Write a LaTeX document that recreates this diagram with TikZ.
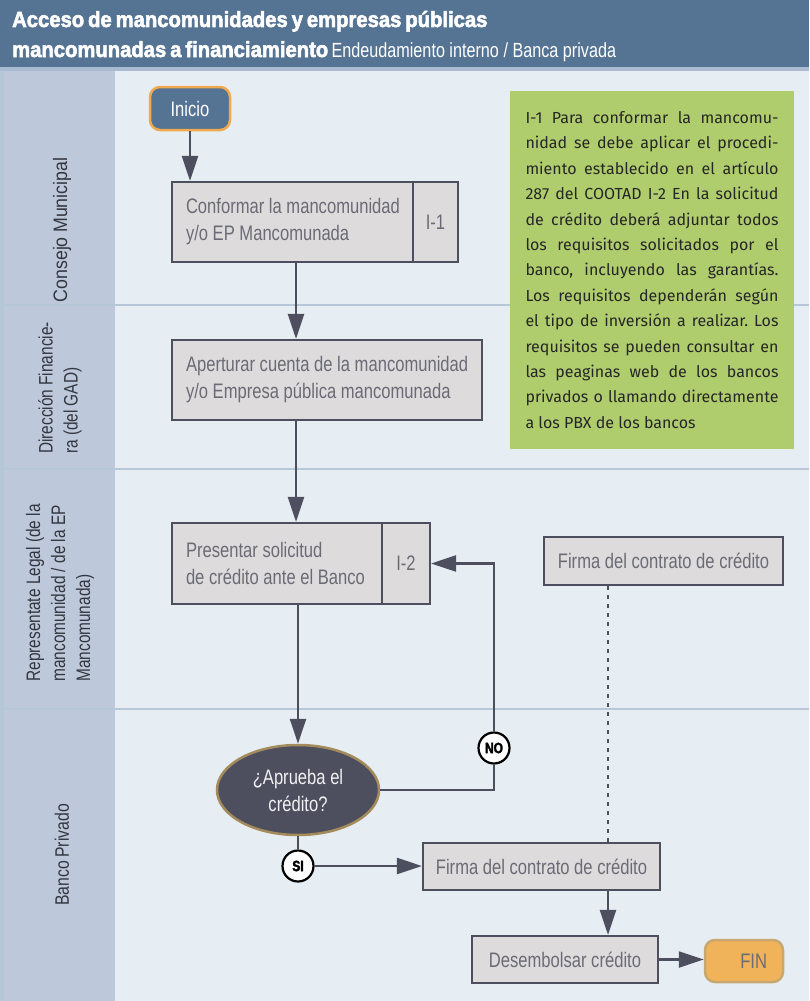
\documentclass[tikz,border=0pt]{standalone}
\usepackage{fontspec}
\usetikzlibrary{arrows.meta,calc,shapes.geometric}
\newfontfamily\cond[FakeStretch=0.79]{Liberation Sans}
\newfontfamily\condwide[FakeStretch=0.91,WordSpace=0.9]{Liberation Sans}
\newfontfamily\condmid[FakeStretch=0.81,WordSpace=0.8]{Liberation Sans}
\newfontfamily\titlef[FakeStretch=0.92,FakeBold=2.5,WordSpace=0.7]{Liberation Sans Bold}
\newfontfamily\tagf[FakeStretch=0.8,FakeBold=2]{Liberation Sans Bold}
\newfontfamily\notef{Fira Sans}
% natural interword space of the current font (overrides the fixed one of align=left)
\newcommand\natspace{\spaceskip=\fontdimen2\font\relax}

\definecolor{hdr}{HTML}{557393}
\definecolor{hdrline}{HTML}{A9BBD0}
\definecolor{lanecol}{HTML}{BDC9DA}
\definecolor{mainbg}{HTML}{E6EEF3}
\definecolor{sep}{HTML}{B5C7D8}
\definecolor{boxfill}{HTML}{DEDBDC}
\definecolor{ink}{HTML}{4D4F5F}
\definecolor{boxtext}{HTML}{6A6B75}
\definecolor{lanetext}{HTML}{333640}
\definecolor{notegreen}{HTML}{B0CD6E}
\definecolor{finorange}{HTML}{F1B35A}
\definecolor{inicioedge}{HTML}{F0A94E}
\definecolor{ellipseedge}{HTML}{A38B5B}
\definecolor{finedge}{HTML}{C8A870}

\tikzset{
  proc/.style={draw=ink, line width=2.2pt, fill=boxfill, text=boxtext,
    font=\cond\fontsize{21}{27}\selectfont, inner sep=0pt},
  lanelab/.style={rotate=90, align=left, text=lanetext,
    font=\cond\fontsize{19.5}{25}\selectfont, inner sep=0pt},
  flow/.style={draw=ink, line width=2.4pt, -{Triangle[width=16pt,length=25pt]}},
  link/.style={draw=ink, line width=2.4pt},
  tag/.style={circle, draw=black, fill=white, line width=2.2pt, minimum size=31pt,
    inner sep=0pt, font=\tagf\fontsize{15}{15}\selectfont},
}

\begin{document}
\begin{tikzpicture}[x=1pt,y=-1pt]
  \useasboundingbox (0,0) rectangle (809,1001);

  % background, title band and lane column
  \fill[mainbg] (0,0) rectangle (809,1001);
  \fill[hdr] (0,0) rectangle (809,67);
  \fill[hdrline] (0,67) rectangle (809,71);
  \fill[sep] (0,71) rectangle (4,1001);
  \fill[lanecol] (4,71) rectangle (115,1001);
  \foreach \yy in {305,469,709}
    \draw[sep, line width=2.5pt] (4,\yy) -- (809,\yy);

  % title
  \node[anchor=base west, inner sep=0pt, text=white,
        font=\titlef\fontsize{22}{22}\selectfont] (t1) at (12,27)
        {Acceso de mancomunidades y empresas públicas};
  \node[anchor=base west, inner sep=0pt, text=white] (t2) at (12,57)
        {{\titlef\fontsize{22}{22}\selectfont mancomunadas a financiamiento}
         {\cond\fontsize{20.5}{20.5}\selectfont Endeudamiento interno / Banca privada}};

  % lane names
  \node[lanelab, font=\condwide\fontsize{19.5}{25}\selectfont] (l1) at (62,230) {Consejo Municipal};
  \node[lanelab] (l2) at (60,388) {\natspace Dirección Financie-\\ra (del GAD)};
  \node[lanelab] (l3) at (60,593) {\natspace Representate Legal (de la\\mancomunidad / de la EP\\Mancomunada)};
  \node[lanelab, font=\condmid\fontsize{19.5}{25}\selectfont] (l4) at (62,855) {Banco Privado};

  % note
  \node[fill=notegreen, minimum width=284pt, minimum height=358pt, inner sep=0pt,
        text width=253pt, align=justify, text=black!85,
        font=\notef\fontsize{16}{25.4}\selectfont] (note) at (652,270)
  {\frenchspacing\hyphenpenalty=10000\exhyphenpenalty=10000\tolerance=10000%
   I-1 Para conformar la mancomu-\linebreak nidad se debe aplicar el procedi-\linebreak
   miento establecido en el artículo\linebreak 287 del COOTAD I-2 En la solicitud\linebreak
   de crédito deberá adjuntar todos\linebreak los requisitos solicitados por el\linebreak
   banco, incluyendo las garantías.\linebreak Los requisitos dependerán según\linebreak
   el tipo de inversión a realizar. Los\linebreak requisitos se pueden consultar en\linebreak
   las peaginas web de los bancos\linebreak privados o llamando directamente\linebreak
   a los PBX de los bancos};

  % flow nodes
  \node[draw=inicioedge, fill=hdr, line width=2.5pt, rounded corners=10pt,
        minimum width=80pt, minimum height=43pt, text=white,
        font=\cond\fontsize{21}{21}\selectfont] (ini) at (190,108.5) {Inicio};

  \node[proc, minimum width=241pt, minimum height=80pt, text width=213pt, align=left]
        (c1) at (292.5,222) {\natspace\mbox{Conformar la mancomunidad}\\\mbox{y/o EP Mancomunada}};
  \node[proc, minimum width=45pt, minimum height=80pt] (c1r) at (435.5,222) {I-1};

  \node[proc, minimum width=310pt, minimum height=80pt, text width=282pt, align=left]
        (c2) at (327,380) {\natspace\mbox{Aperturar cuenta de la mancomunidad}\\\mbox{y/o Empresa pública mancomunada}};

  \node[proc, minimum width=210pt, minimum height=81pt, text width=182pt, align=left]
        (c3) at (277,563.5) {\natspace\mbox{Presentar solicitud}\\\mbox{de crédito ante el Banco}};
  \node[proc, minimum width=48pt, minimum height=81pt] (c3r) at (406,563.5) {I-2};

  \node[ellipse, draw=ellipseedge, fill=ink, line width=2.5pt, minimum width=162pt,
        minimum height=90pt, inner sep=0pt, align=center, text=white!92!ink,
        font=\cond\fontsize{21}{27}\selectfont] (q) at (298,790) {¿Aprueba el\\crédito?};

  \node[tag] (no) at (494,748) {NO};
  \node[tag] (si) at (298,866) {SI};

  \node[proc, minimum width=239pt, minimum height=48pt] (f1) at (663.5,561)
        {Firma del contrato de crédito};
  \node[proc, minimum width=237pt, minimum height=47pt] (f2) at (541.5,866.5)
        {Firma del contrato de crédito};
  \node[proc, minimum width=186pt, minimum height=47pt] (d) at (565,959.5)
        {Desembolsar crédito};
  \node[draw=finedge, fill=finorange, line width=2.5pt, rounded corners=10pt,
        minimum width=78pt, minimum height=42pt, inner sep=0pt, text width=46pt,
        align=right, text=boxtext, font=\cond\fontsize{21}{21}\selectfont]
        (fin) at (744,961) {FIN};

  % connectors
  \coordinate (colA) at (296,0);
  \coordinate (colB) at (608,0);
  \draw[flow] (ini.south) -- (ini.south |- c1.north);
  \draw[flow] (colA |- c1.south) -- (colA |- c2.north);
  \draw[flow] (colA |- c2.south) -- (colA |- c3.north);
  \draw[flow] (q.north |- c3.south) -- (q.north);
  \draw[link] (q.east) -| (no.south);
  \draw[flow] (no.north) |- (c3r.east);
  \draw[link] (q.south) -- (si.north);
  \draw[flow] (si.east) -- (si.east -| f2.west);
  \draw[ink, line width=2.2pt, dash pattern=on 4pt off 5pt]
        (colB |- f1.south) -- (colB |- f2.north);
  \draw[flow] (colB |- f2.south) -- (colB |- d.north);
  \draw[flow] (d.east) -- (d.east -| fin.west);
\end{tikzpicture}
\end{document}
